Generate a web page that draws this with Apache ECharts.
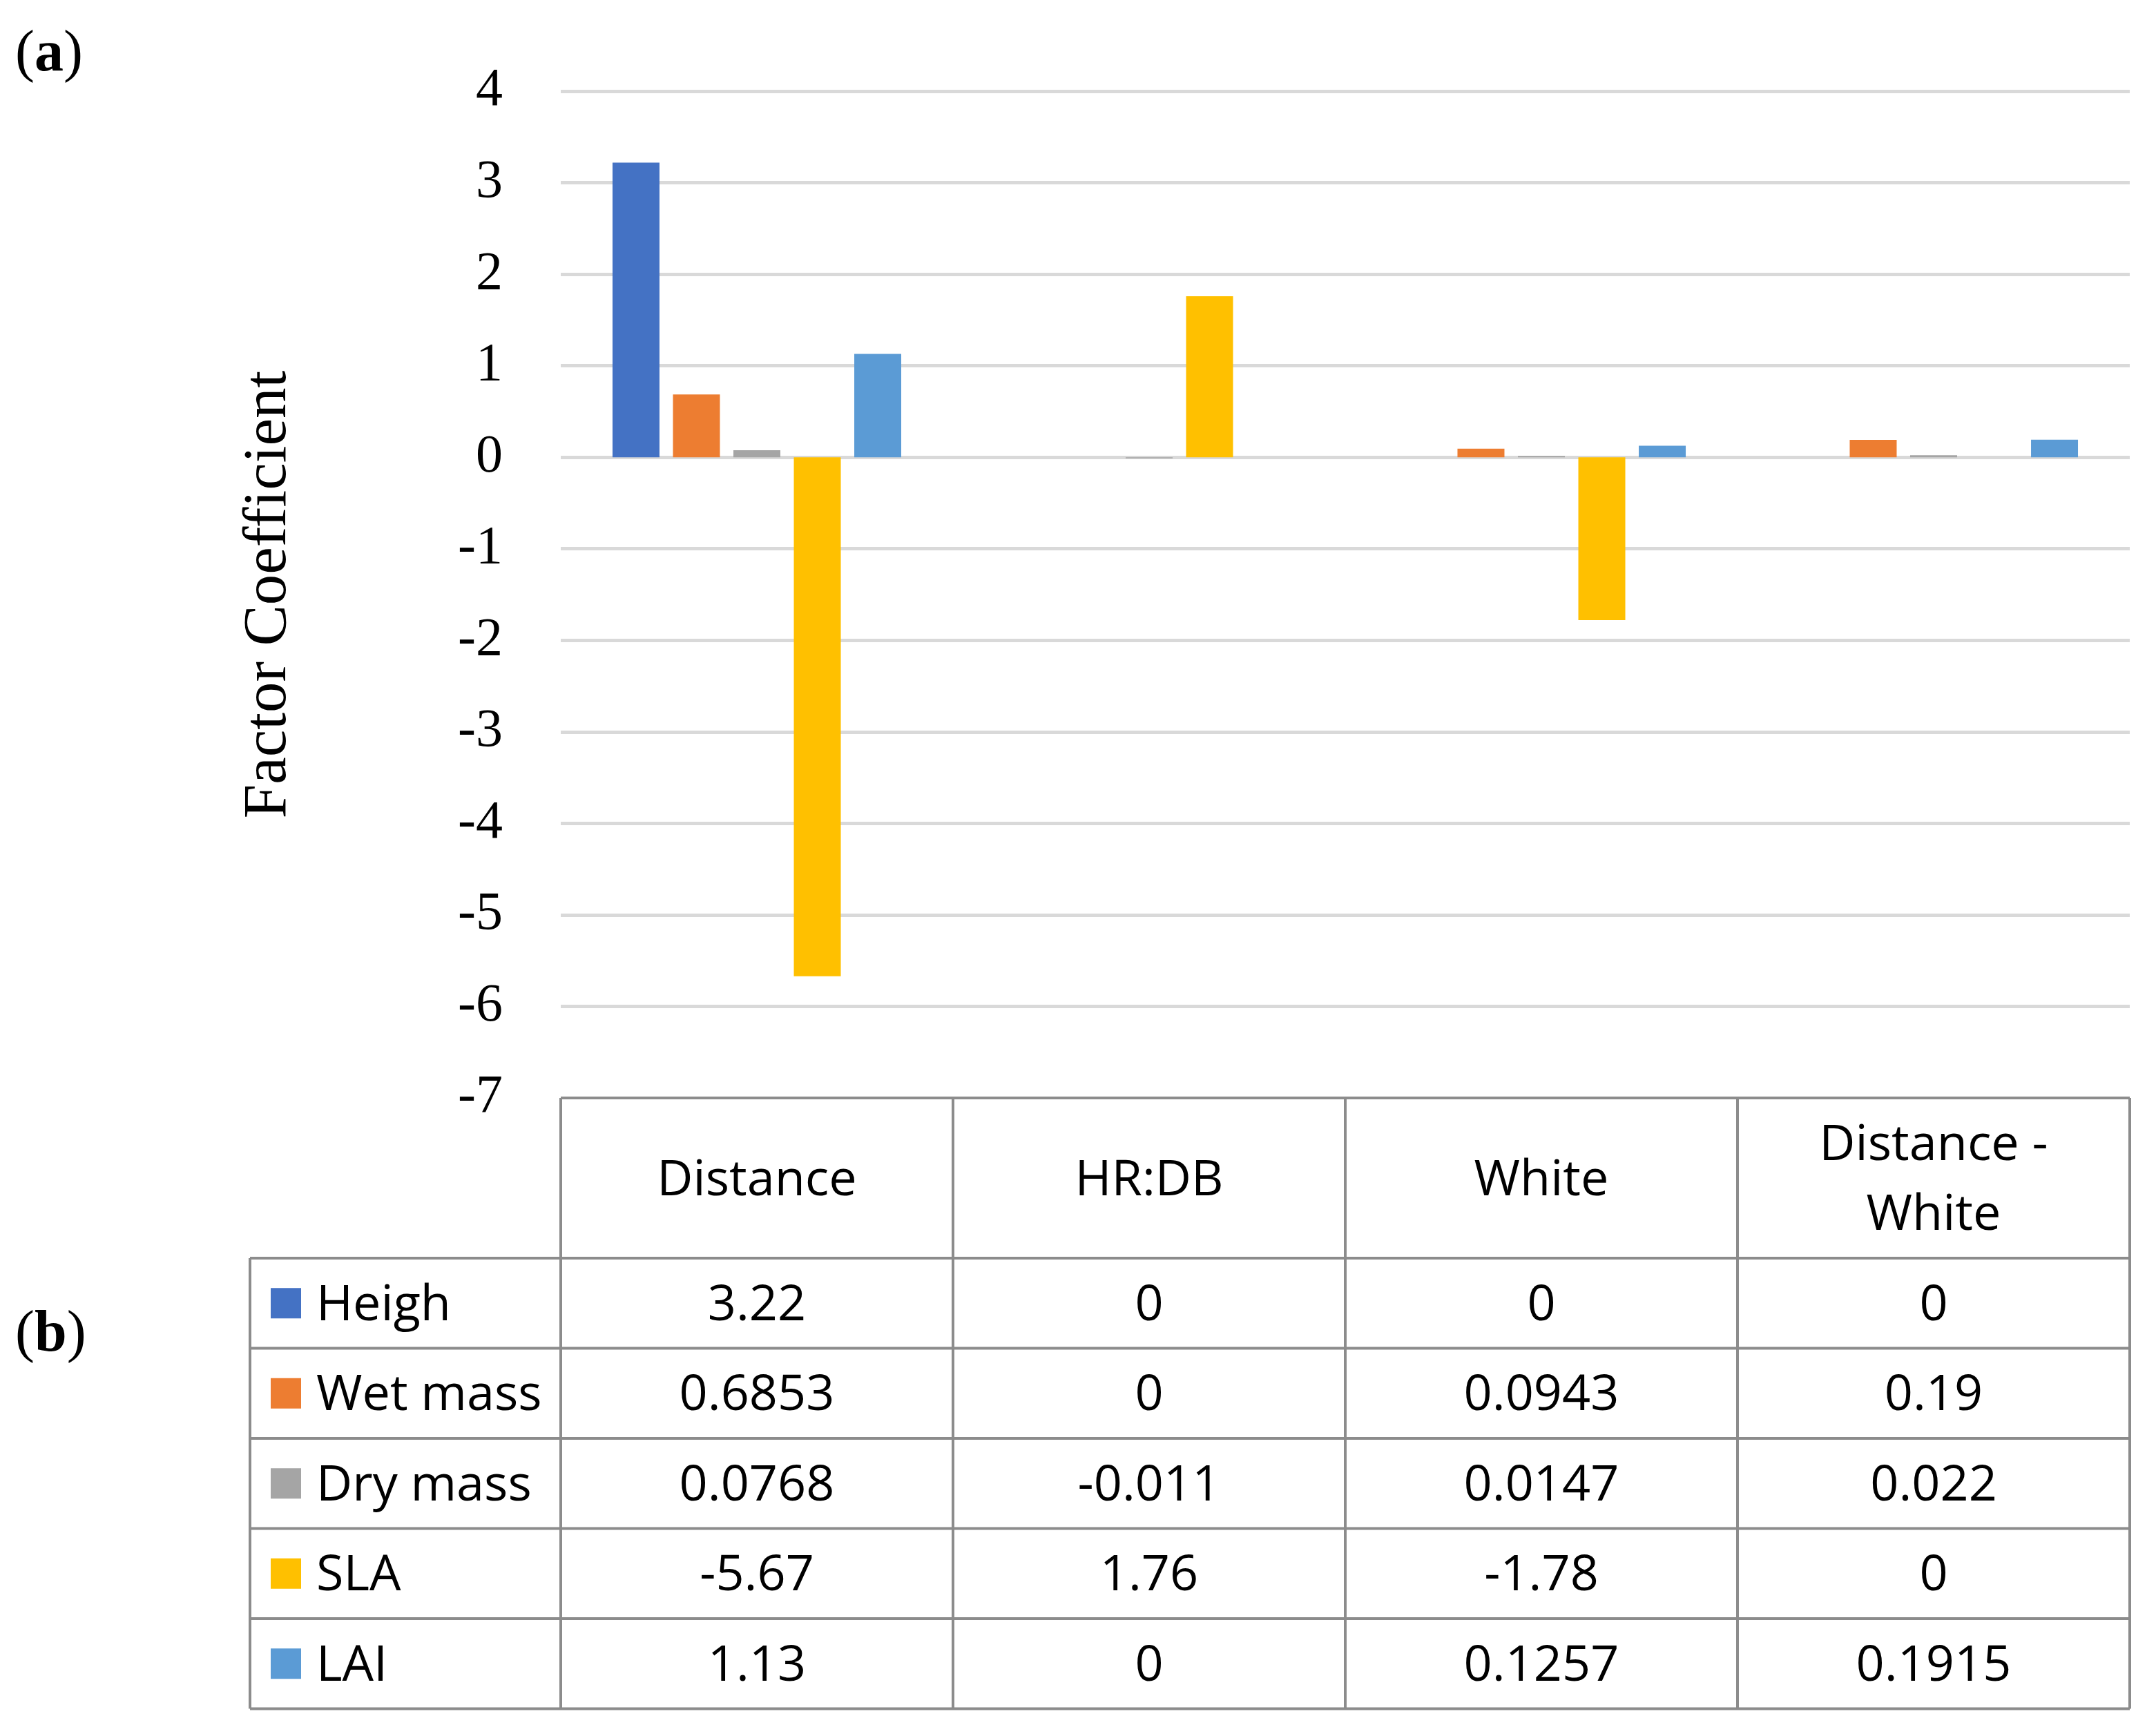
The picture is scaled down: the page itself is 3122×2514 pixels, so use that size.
<!DOCTYPE html>
<html>
<head>
<meta charset="utf-8">
<script src="https://cdn.jsdelivr.net/npm/echarts@6/dist/echarts.min.js"></script>
<style>
html,body{margin:0;padding:0;background:#fff;}
#chart{width:3122px;height:2514px;}
</style>
</head>
<body>
<div id="chart"></div>
<script>
// ---- data ----
const categories = ['Distance', 'HR:DB', 'White', 'Distance - White'];
const seriesNames = ['Heigh', 'Wet mass', 'Dry mass', 'SLA', 'LAI'];
const heigh   = [3.22, 0, 0, 0];
const wetMass = [0.6853, 0, 0.0943, 0.19];
const dryMass = [0.0768, -0.011, 0.0147, 0.022];
const sla     = [-5.67, 1.76, -1.78, 0];
const lai     = [1.13, 0, 0.1257, 0.1915];
const yMin = -7, yMax = 4, yStep = 1;
const axisTitle = 'Factor Coefficient';

const seriesData = [heigh, wetMass, dryMass, sla, lai];
const colors = ['#4472C4', '#ED7D31', '#A5A5A5', '#FFC000', '#5B9BD5'];

const SERIF = '"Liberation Serif", "DejaVu Serif", serif';
const SANS = '"Open Sans", "Noto Sans", sans-serif';

const chart = echarts.init(document.getElementById('chart'), null, {renderer: 'canvas'});

const option = {
  backgroundColor: '#ffffff',
  animation: false,
  grid: {left: 812, right: 38, top: 132, bottom: 924, containLabel: false},
  xAxis: {
    type: 'category',
    data: categories,
    axisLine: {show: false},
    axisTick: {show: false},
    axisLabel: {show: false},
    splitLine: {show: false}
  },
  yAxis: {
    type: 'value',
    min: yMin, max: yMax, interval: yStep,
    name: axisTitle,
    nameLocation: 'middle',
    nameGap: 378,
    nameRotate: 90,
    nameTextStyle: {fontFamily: SERIF, fontSize: 89, color: '#000'},
    axisLine: {show: false},
    axisTick: {show: false},
    axisLabel: {fontFamily: SERIF, fontSize: 78, color: '#000', margin: 84},
    splitLine: {lineStyle: {color: '#D9D9D9', width: 5}}
  },
  series: seriesNames.map((n, i) => ({
    name: n,
    type: 'bar',
    data: seriesData[i],
    barWidth: 68,
    barGap: '28.7%',
    itemStyle: {color: colors[i]},
    z: 2
  }))
};
chart.setOption(option);

// ---- table below the axis, positioned from the chart's own scales ----
function buildTable() {
  const c0 = chart.convertToPixel({xAxisIndex: 0}, categories[0]);
  const c1 = chart.convertToPixel({xAxisIndex: 0}, categories[1]);
  const bw = c1 - c0;
  const left = c0 - bw / 2;
  const right = left + bw * categories.length;
  const top = chart.convertToPixel({yAxisIndex: 0}, yMin);
  const headerH = 232;
  const rowH = 130.5;
  const legendLeft = 362;
  const headerBottom = top + headerH;
  const bottom = headerBottom + rowH * seriesNames.length;
  const lineColor = '#8C8C8C';
  const lw = 4;
  const FS = 72;
  const dy = 4;
  const els = [];
  const line = (x1, y1, x2, y2) => els.push({
    type: 'line', z: 10,
    shape: {x1, y1, x2, y2},
    style: {stroke: lineColor, lineWidth: lw}
  });
  els.push({type: 'rect', z: 9, shape: {x: left, y: top, width: right - left, height: bottom - top}, style: {fill: '#fff'}});
  line(left, top, right, top);
  for (let r = 0; r <= seriesNames.length; r++) {
    const y = headerBottom + r * rowH;
    line(legendLeft, y, right, y);
  }
  for (let c = 0; c <= categories.length; c++) {
    const x = left + c * bw;
    line(x, top, x, bottom);
  }
  line(legendLeft, headerBottom, legendLeft, bottom);
  categories.forEach((cat, c) => {
    els.push({
      type: 'text', z: 11,
      style: {
        x: left + (c + 0.5) * bw, y: top + headerH / 2 + dy,
        text: cat.replace(' - ', ' -\n'),
        align: 'center', verticalAlign: 'middle',
        font: FS + 'px ' + SANS, fill: '#000', lineHeight: 101
      }
    });
  });
  seriesNames.forEach((n, r) => {
    const yc = headerBottom + (r + 0.5) * rowH;
    els.push({type: 'rect', z: 11, shape: {x: 392, y: yc - 22, width: 44, height: 44}, style: {fill: colors[r]}});
    els.push({
      type: 'text', z: 11,
      style: {x: 458, y: yc + dy, text: n, align: 'left', verticalAlign: 'middle', font: FS + 'px ' + SANS, fill: '#000'}
    });
    seriesData[r].forEach((v, c) => {
      els.push({
        type: 'text', z: 11,
        style: {x: left + (c + 0.5) * bw, y: yc + dy, text: String(v), align: 'center', verticalAlign: 'middle', font: FS + 'px ' + SANS, fill: '#000'}
      });
    });
  });
  const panel = (letter, y) => els.push({
    type: 'text', z: 11,
    style: {
      x: 22, y: y, text: '{p|(}{b|' + letter + '}{p|)}', verticalAlign: 'middle', align: 'left',
      rich: {p: {fontFamily: SERIF, fontSize: 84, fill: '#000'}, b: {fontFamily: SERIF, fontSize: 84, fontWeight: 'bold', fill: '#000'}}
    }
  });
  panel('a', 80);
  panel('b', 1934);
  chart.setOption({graphic: {elements: els}});
}
buildTable();
</script>
</body>
</html>
